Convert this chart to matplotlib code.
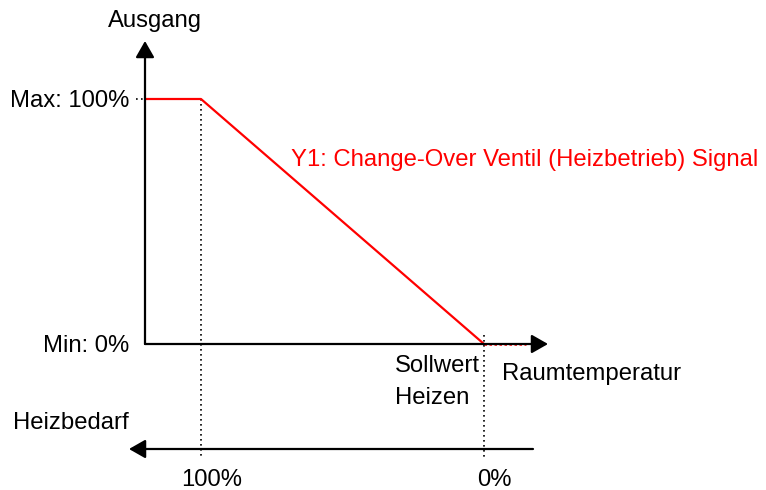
import matplotlib
matplotlib.use("Agg")
import matplotlib.pyplot as plt

plt.rcParams['font.family'] = ['Liberation Sans', 'DejaVu Sans']

# Data (x: Heizbedarf-scale units, 0 = 100 % demand, 100 = 0 % demand; y: output %)
signal_x = [-20, 0, 100]
signal_y = [100, 100, 0]
tail_x = [100, 115]
tail_y = [0, 0]
y_ticks = [0, 100]
y_tick_labels = ["Min: 0%", "Max: 100%"]
demand_ticks = [0, 100]
demand_labels = ["100%", "0%"]
series_label = "Y1: Change-Over Ventil (Heizbetrieb) Signal"

# pixel mapping helpers (figure 766x490)
PX_X0, PX_XS = 201, 2.83   # pixel of x=0, pixels per unit
PX_Y0, PX_YS = 344, 2.45   # pixel of y=0, pixels per unit

fig = plt.figure(figsize=(7.66, 4.90), dpi=100)
ax = fig.add_axes([0, 0, 1, 1])
ax.set_xlim(-PX_X0 / PX_XS, (766 - PX_X0) / PX_XS)
ax.set_ylim((PX_Y0 - 490) / PX_YS, PX_Y0 / PX_YS)
ax.axis('off')

def X(px):
    return (px - PX_X0) / PX_XS

def Y(py):
    return (PX_Y0 - py) / PX_YS

fs = 17.2
axis_x = X(145)
xaxis_end = X(548)
yaxis_top = Y(41)
bottom_y = Y(449)

astyle = '-|>,head_length=1.0,head_width=0.57'
# y axis arrow
ax.annotate('', xy=(axis_x, yaxis_top), xytext=(axis_x, 0),
            arrowprops=dict(arrowstyle=astyle, color='black', lw=1.6, shrinkA=0, shrinkB=0))
# x axis arrow
ax.annotate('', xy=(xaxis_end, 0), xytext=(axis_x, 0),
            arrowprops=dict(arrowstyle=astyle, color='black', lw=1.6, shrinkA=0, shrinkB=0))
# bottom demand axis (pointing left)
ax.annotate('', xy=(X(129), bottom_y), xytext=(X(533), bottom_y),
            arrowprops=dict(arrowstyle=astyle, color='black', lw=1.6, shrinkA=0, shrinkB=0))

# dotted guides
ax.plot([X(136), axis_x], [100, 100], color='black', lw=1.2, ls=(0, (1, 2)))
ax.plot([demand_ticks[0], demand_ticks[0]], [100, Y(457)], color='black', lw=1.2, ls=(0, (1, 2)))
ax.plot([demand_ticks[1], demand_ticks[1]], [Y(335), Y(457)], color='black', lw=1.2, ls=(0, (1, 2)))

# signal
ax.plot(signal_x, signal_y, color='red', lw=1.6, solid_capstyle='butt')
ax.plot(tail_x, tail_y, color='red', lw=1.8, ls=(0, (1, 1)))

# texts
ax.text(X(154.5), Y(27), "Ausgang", fontsize=fs, ha='center', va='baseline')
for v, lab in zip(y_ticks, y_tick_labels):
    ax.text(X(129), v - 8 / PX_YS, lab, fontsize=fs, ha='right', va='baseline')
ax.text(X(291), Y(166), series_label, fontsize=fs, color='red', ha='left', va='baseline')
ax.text(X(395), Y(372), "Sollwert", fontsize=fs, ha='left', va='baseline')
ax.text(X(395), Y(404), "Heizen", fontsize=fs, ha='left', va='baseline')
ax.text(X(502), Y(380), "Raumtemperatur", fontsize=fs, ha='left', va='baseline')
ax.text(X(13), Y(429), "Heizbedarf", fontsize=fs, ha='left', va='baseline')
for v, lab, off in zip(demand_ticks, demand_labels, [11, 10]):
    ax.text(v + off / PX_XS, Y(486), lab, fontsize=fs, ha='center', va='baseline')

fig.savefig('out.png', dpi=100)
